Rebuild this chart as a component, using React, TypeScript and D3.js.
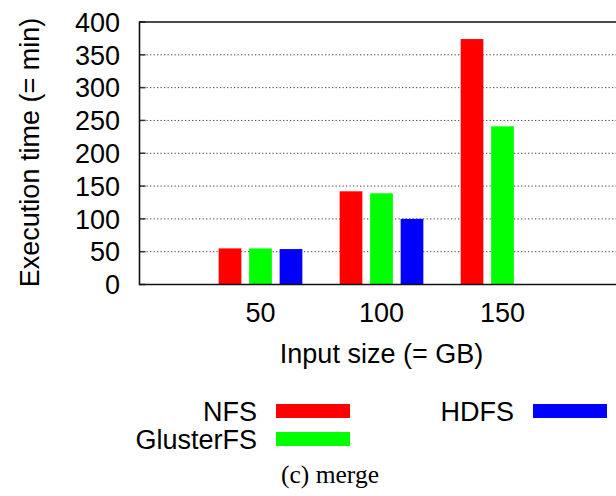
import React from "react";
import * as d3 from "d3";

const categories = ["50", "100", "150"];
const seriesNames = ["NFS", "GlusterFS", "HDFS"];
const seriesColors = ["#ff0000", "#00ff00", "#0000ff"];
const nfsValues = [55, 142, 374];
const glusterValues = [55, 139, 241];
const hdfsValues = [54, 100, null as number | null];
const yTicks = [0, 50, 100, 150, 200, 250, 300, 350, 400];
const yTitle = "Execution time (= min)";
const xTitle = "Input size (= GB)";
const caption = "(c) merge";

const W = 616;
const H = 496;
const plot = { left: 139.5, right: 623.5, top: 22, bottom: 284.5 };
const FONT = "'Liberation Sans', Arial, Helvetica, sans-serif";

export default function App() {
  const y = d3.scaleLinear().domain([0, 400]).range([plot.bottom, plot.top]);
  const x = d3.scaleLinear().domain([-1, 3]).range([plot.left, plot.right]);
  const unit = x(1) - x(0);
  const barW = unit * 0.1876;
  const offsets = [-0.252, 0, 0.252];
  const allSeries = [nfsValues, glusterValues, hdfsValues];

  const legendItems = [
    { name: seriesNames[0], color: seriesColors[0], tx: 257, sx: 276, cy: 411 },
    { name: seriesNames[1], color: seriesColors[1], tx: 257, sx: 276, cy: 439 },
    { name: seriesNames[2], color: seriesColors[2], tx: 514, sx: 533, cy: 411 },
  ];

  return (
    <svg
      width={W}
      height={H}
      style={{ position: "absolute", left: 0, top: 0, background: "#fff" }}
      fontFamily={FONT}
    >
      <rect x={0} y={0} width={W} height={H} fill="#fff" />
      {/* grid */}
      {yTicks
        .filter((t) => t > 0 && t < 400)
        .map((t) => (
          <line
            key={"g" + t}
            x1={plot.left}
            x2={plot.right}
            y1={y(t)}
            y2={y(t)}
            stroke="#444"
            strokeWidth={1}
            strokeDasharray="1.3,2.2"
          />
        ))}
      {/* y ticks */}
      {yTicks.map((t) => (
        <line
          key={"t" + t}
          x1={plot.left}
          x2={plot.left + 6}
          y1={y(t)}
          y2={y(t)}
          stroke="#333"
          strokeWidth={1.5}
        />
      ))}
      {/* bars */}
      {allSeries.map((vals, si) =>
        vals.map((v, ci) =>
          v == null ? null : (
            <rect
              key={`b${si}-${ci}`}
              x={x(ci + offsets[si]) - barW / 2}
              y={y(v)}
              width={barW}
              height={y(0) - y(v)}
              fill={seriesColors[si]}
            />
          )
        )
      )}
      {/* border */}
      <path
        d={`M${plot.right},${plot.top}H${plot.left}V${plot.bottom}H${plot.right}`}
        fill="none"
        stroke="#111"
        strokeWidth={1.6}
      />
      {/* y tick labels */}
      {yTicks.map((t) => (
        <text
          key={"l" + t}
          x={120}
          y={y(t)}
          dy="0.36em"
          textAnchor="end"
          fontSize={27}
          fill="#000"
        >
          {t}
        </text>
      ))}
      {/* x tick labels */}
      {categories.map((c, i) => (
        <text key={"x" + c} x={x(i)} y={322} textAnchor="middle" fontSize={27} fill="#000">
          {c}
        </text>
      ))}
      <text x={x(1)} y={363} textAnchor="middle" fontSize={27} fill="#000">
        {xTitle}
      </text>
      <text
        transform={`translate(39,152.5) rotate(-90)`}
        textAnchor="middle"
        fontSize={27}
        fill="#000"
      >
        {yTitle}
      </text>
      {/* legend */}
      {legendItems.map((it) => (
        <g key={it.name}>
          <text x={it.tx} y={it.cy} dy="0.36em" textAnchor="end" fontSize={27} fill="#000">
            {it.name}
          </text>
          <rect x={it.sx} y={it.cy - 7} width={74} height={14} fill={it.color} />
        </g>
      ))}
      <text
        x={330}
        y={483}
        textAnchor="middle"
        fontSize={25.5}
        fontFamily="'Liberation Serif', 'Times New Roman', serif"
        fill="#000"
      >
        {caption}
      </text>
    </svg>
  );
}
